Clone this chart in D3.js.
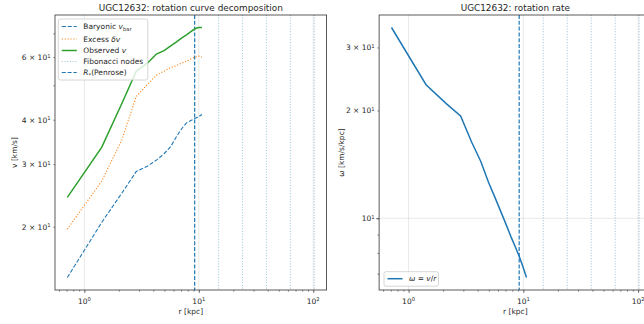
<!DOCTYPE html>
<html><head><meta charset="utf-8">
<script src="https://cdn.jsdelivr.net/npm/d3@7"></script>
<style>body{margin:0;background:#fff;overflow:hidden} text{font-family:"DejaVu Sans",sans-serif;fill:#262626}</style>
</head><body><svg id="c" width="644" height="324"></svg>
<script>
// ---- data ----
const radius     = [0.71, 1.42, 2.13, 2.84, 3.55, 4.26, 4.97, 5.68, 6.39, 7.10, 7.81, 8.52, 9.23, 9.94, 10.65];
const vObserved  = [24.2, 33.5, 44.5, 54.8, 57.7, 61.2, 62.6, 64.5, 66.2, 68.0, 69.3, 70.8, 72.1, 72.7, 72.7];
const vBaryonic  = [14.4, 20.6, 24.9, 28.6, 29.6, 30.8, 32.1, 33.6, 35.9, 37.8, 39.2, 39.8, 40.3, 40.8, 41.4];
const vExcess    = [19.7, 26.9, 35.2, 46.5, 50.2, 53.4, 54.8, 56.1, 56.8, 57.8, 58.4, 59.3, 60.0, 60.4, 60.0];
const omega      = [34.1, 23.6, 20.9, 19.3, 16.3, 14.4, 12.6, 11.4, 10.4, 9.58, 8.87, 8.31, 7.81, 7.31, 6.83];
const rPenrose   = 9.2;
const fibonacciNodes = [14.9, 24.1, 39.0, 63.1, 102.0];

const xMajorTicks  = [1, 10, 100];
const xMajorLabels = ["10^0", "10^1", "10^2"];
const vTickValues  = [20, 30, 40, 50, 60, 70];
const vTickLabels  = ["2 × 10^1", "3 × 10^1", "4 × 10^1", "", "6 × 10^1", ""];
const wTickValues  = [7, 8, 9, 10, 20, 30];
const wTickLabels  = ["", "", "", "10^1", "2 × 10^1", "3 × 10^1"];
const wMajorTicks  = [10];

const C0 = "#1f77b4", C1 = "#ff7f0e", C2 = "#2ca02c";
const svg = d3.select("#c");

function logPad(vals, m = 0.05) {
  const lo = Math.log10(d3.min(vals)), hi = Math.log10(d3.max(vals)), d = hi - lo;
  return [Math.pow(10, lo - m * d), Math.pow(10, hi + m * d)];
}
function minorTicks(domain) {
  const out = [];
  for (let e = Math.floor(Math.log10(domain[0])); e <= Math.ceil(Math.log10(domain[1])); e++)
    for (let k = 2; k <= 9; k++) { const v = k * Math.pow(10, e); if (v >= domain[0] && v <= domain[1]) out.push(v); }
  return out;
}
function writeSup(sel, label) {
  const [base, sup] = label.split("^");
  sel.append("tspan").text(base);
  if (sup !== undefined) sel.append("tspan").attr("font-size", "70%").attr("dy", "-0.5em").text(sup);
}

const yTop = 15, yBottom = 290;
const xAll = radius.concat(fibonacciNodes, [rPenrose]);
const xDomain = logPad(xAll);

function panel(x0, x1, yDomain, yTicks, yLabels, yMajors, opts) {
  const g = svg.append("g");
  const x = d3.scaleLog().domain(xDomain).range([x0, x1]);
  const y = d3.scaleLog().domain(yDomain).range([yBottom, yTop]);
  const clipId = "clip" + Math.round(x0);
  svg.append("clipPath").attr("id", clipId).append("rect")
    .attr("x", x0).attr("y", yTop).attr("width", x1 - x0).attr("height", yBottom - yTop);
  const plot = g.append("g").attr("clip-path", `url(#${clipId})`);
  xMajorTicks.forEach(t => plot.append("line").attr("x1", x(t)).attr("x2", x(t)).attr("y1", yTop).attr("y2", yBottom)
    .attr("stroke", "#b0b0b0").attr("stroke-opacity", 0.35).attr("stroke-width", 0.8));
  yMajors.forEach(t => plot.append("line").attr("y1", y(t)).attr("y2", y(t)).attr("x1", x0).attr("x2", x1)
    .attr("stroke", "#b0b0b0").attr("stroke-opacity", 0.35).attr("stroke-width", 0.8));
  fibonacciNodes.forEach(f => plot.append("line").attr("x1", x(f)).attr("x2", x(f)).attr("y1", yTop).attr("y2", yBottom)
    .attr("stroke", C0).attr("stroke-opacity", 0.45).attr("stroke-width", 1).attr("stroke-dasharray", "1,1.7"));
  plot.append("line").attr("x1", x(rPenrose)).attr("x2", x(rPenrose)).attr("y1", yTop).attr("y2", yBottom)
    .attr("stroke", C0).attr("stroke-width", 1.2).attr("stroke-dasharray", "4,1.8");
  opts.series.forEach(s => {
    plot.append("path").datum(radius.map((r, i) => [r, s.values[i]]))
      .attr("d", d3.line().x(d => x(d[0])).y(d => y(d[1])))
      .attr("fill", "none").attr("stroke", s.color).attr("stroke-width", s.width)
      .attr("stroke-dasharray", s.dash || null);
  });
  g.append("rect").attr("x", x0).attr("y", yTop).attr("width", x1 - x0).attr("height", yBottom - yTop)
    .attr("fill", "none").attr("stroke", "#333").attr("stroke-width", 0.8);
  const xa = g.append("g").attr("transform", `translate(0,${yBottom})`);
  xa.call(d3.axisBottom(x).tickValues(minorTicks(xDomain)).tickSize(1.6).tickFormat(""));
  xa.select(".domain").remove();
  xa.selectAll(".tick line").attr("stroke", "#333").attr("stroke-width", 0.6);
  const xb = g.append("g").attr("transform", `translate(0,${yBottom})`);
  xb.call(d3.axisBottom(x).tickValues(xMajorTicks).tickSize(2.8).tickFormat(""));
  xb.select(".domain").remove();
  xb.selectAll(".tick line").attr("stroke", "#333").attr("stroke-width", 0.8);
  xMajorTicks.forEach((t, i) => {
    const tx = g.append("text").attr("x", x(t)).attr("y", 304).attr("text-anchor", "middle").attr("font-size", 7.5);
    writeSup(tx, xMajorLabels[i]);
  });
  g.append("text").attr("x", (x0 + x1) / 2).attr("y", 313.5).attr("text-anchor", "middle").attr("font-size", 7.5).text("r [kpc]");
  const ya = g.append("g").attr("transform", `translate(${x0},0)`);
  ya.call(d3.axisLeft(y).tickValues(yTicks).tickSize(1.6).tickFormat(""));
  ya.select(".domain").remove();
  ya.selectAll(".tick line").attr("stroke", "#333").attr("stroke-width", 0.6);
  const yb = g.append("g").attr("transform", `translate(${x0},0)`);
  yb.call(d3.axisLeft(y).tickValues(yMajors).tickSize(2.8).tickFormat(""));
  yb.select(".domain").remove();
  yb.selectAll(".tick line").attr("stroke", "#333").attr("stroke-width", 0.8);
  yTicks.forEach((t, i) => {
    if (!yLabels[i]) return;
    const ty = g.append("text").attr("x", x0 - 4.5).attr("y", y(t) + 3).attr("text-anchor", "end").attr("font-size", 7.5);
    writeSup(ty, yLabels[i]);
  });
  g.append("text").attr("transform", `translate(${opts.yLabelX},${(yTop + yBottom) / 2}) rotate(-90)`)
    .attr("text-anchor", "middle").attr("font-size", 7.5).text(opts.yLabel);
  g.append("text").attr("x", (x0 + x1) / 2).attr("y", 10.5).attr("text-anchor", "middle").attr("font-size", 8.9).text(opts.title);
  return { x, y, g };
}

const vDomain = logPad(vObserved.concat(vBaryonic, vExcess));
panel(55, 326.6, vDomain, vTickValues, vTickLabels, [], {
  title: "UGC12632: rotation curve decomposition", yLabel: "v [km/s]", yLabelX: 17,
  series: [
    { values: vBaryonic, color: C0, width: 1.1, dash: "4.1,1.8" },
    { values: vExcess, color: C1, width: 1.1, dash: "1.1,1.8" },
    { values: vObserved, color: C2, width: 1.5 }
  ]
});
const wDomain = logPad(omega);
panel(379.1, 651.5, wDomain, wTickValues, wTickLabels, wMajorTicks, {
  title: "UGC12632: rotation rate", yLabel: "ω [km/s/kpc]", yLabelX: 344,
  series: [{ values: omega, color: C0, width: 1.5 }]
});

function legend(x, y, w, h, rows) {
  const lg = svg.append("g");
  lg.append("rect").attr("x", x).attr("y", y).attr("width", w).attr("height", h).attr("rx", 2)
    .attr("fill", "#fff").attr("fill-opacity", 0.8).attr("stroke", "#cccccc").attr("stroke-width", 0.8);
  rows.forEach(r => {
    const cy = y + r.dy;
    lg.append("line").attr("x1", x + 3.5).attr("x2", x + 18.5).attr("y1", cy).attr("y2", cy)
      .attr("stroke", r.color).attr("stroke-width", r.width).attr("stroke-opacity", r.opacity || 1)
      .attr("stroke-dasharray", r.dash || null);
    const t = lg.append("text").attr("x", x + 25).attr("y", cy + 2.7).attr("font-size", 7.5);
    r.parts.forEach(p => {
      const ts = t.append("tspan").text(p.t);
      if (p.i) ts.attr("font-style", "italic");
      if (p.sub) ts.attr("font-size", "70%").attr("dy", "0.3em");
      if (p.back) ts.attr("dy", "-0.3em");
    });
  });
}
legend(58.3, 19, 89.5, 61, [
  { dy: 7.5, color: C0, width: 1.1, dash: "4.1,1.8", parts: [{ t: "Baryonic " }, { t: "v", i: 1 }, { t: "bar", sub: 1 }] },
  { dy: 20, color: C1, width: 1.1, dash: "1.1,1.8", parts: [{ t: "Excess " }, { t: "δv", i: 1 }] },
  { dy: 31.5, color: C2, width: 1.5, parts: [{ t: "Observed " }, { t: "v", i: 1 }] },
  { dy: 42.5, color: C0, width: 1, opacity: 0.45, dash: "1,1.7", parts: [{ t: "Fibonacci nodes" }] },
  { dy: 53.5, color: C0, width: 1.2, dash: "4,1.8", parts: [{ t: "R", i: 1 }, { t: "*", sub: 1 }, { t: "(Penrose)", back: 1 }] }
]);
legend(384, 271.7, 54.5, 14.5, [
  { dy: 7, color: C0, width: 1.5, parts: [{ t: "ω", i: 1 }, { t: " = " }, { t: "v", i: 1 }, { t: "/" }, { t: "r", i: 1 }] }
]);
</script></body></html>
